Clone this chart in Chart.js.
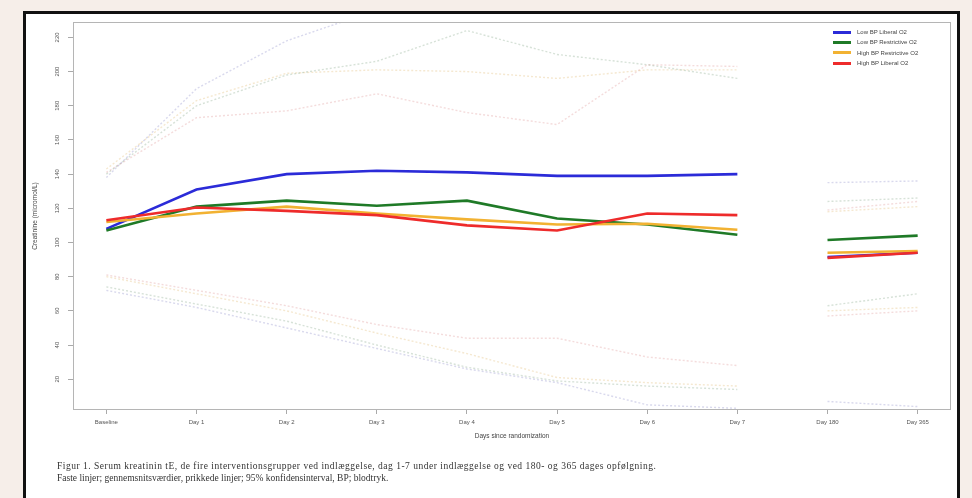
<!DOCTYPE html>
<html>
<head>
<meta charset="utf-8">
<script src="https://cdn.jsdelivr.net/npm/chart.js@4.4.1/dist/chart.umd.min.js"></script>
<style>
  html, body { margin: 0; padding: 0; overflow: hidden; }
  body { width: 972px; height: 498px; background: #f6eee9; position: relative; font-family: "Liberation Sans", Arial, sans-serif; }
  #frame { position: absolute; left: 23px; top: 11px; width: 931px; height: 500px; border: 3px solid #111; background: #fff; }
  #wrap { position: absolute; left: 0; top: 0; width: 972px; height: 498px; }
  #legend { position: absolute; left: 833px; top: 27px; font-size: 6px; color: #444; }
  #legend .row { height: 10.3px; display: flex; align-items: center; }
  #legend .sw { width: 18px; height: 3px; margin-right: 6px; }
  #caption { position: absolute; left: 57px; top: 460px; font-family: "Liberation Serif", "Times New Roman", serif; font-size: 9.5px; line-height: 12px; color: #333; white-space: nowrap; }
  #caption .l1 { letter-spacing: 0.5px; }
</style>
</head>
<body>
<div id="frame"></div>
<div id="wrap"><canvas id="chart"></canvas></div>
<div id="legend"></div>
<div id="caption"><span class="l1">Figur 1. Serum kreatinin tE, de fire interventionsgrupper ved indlæggelse, dag 1-7 under indlæggelse og ved 180- og 365 dages opfølgning.</span><br>Faste linjer; gennemsnitsværdier, prikkede linjer; 95% konfidensinterval, BP; blodtryk.</div>
<script>
// KATEGORIER
const days = ["Baseline", "Day 1", "Day 2", "Day 3", "Day 4", "Day 5", "Day 6", "Day 7", "Day 180", "Day 365"];
const groups = ["Low BP Liberal O2", "Low BP Restrictive O2", "High BP Restrictive O2", "High BP Liberal O2"];

// GENNEMSNIT
const lowLibMean = [108, 131, 140, 142, 141, 139, 139, 140, 91.5, 94];
const lowResMean = [107, 121, 124.5, 121.5, 124.5, 114, 110.5, 104.5, 101.5, 104];
const highResMean = [112, 117, 121, 117, 113.5, 110.5, 111, 107.5, 94, 95];
const highLibMean = [113, 120.5, 118.5, 116, 110, 107, 117, 116, 91, 94];

// 95% KONFIDENSINTERVAL
const lowLibUpper = [138, 190, 218, 236, 245, 250, 252, 255, 135, 136];
const lowLibLower = [72, 62, 50, 38, 26, 18, 5, 3, 7, 4];
const lowResUpper = [140, 180, 198, 206, 224, 210, 204, 196, 124, 126];
const lowResLower = [74, 64, 54, 40, 27, 19, 16, 14, 63, 70];
const highResUpper = [143, 183, 199, 201, 200, 196, 201, 201, 118, 121];
const highResLower = [80, 70, 60, 47, 35, 21, 18, 16, 60, 62];
const highLibUpper = [141, 173, 177, 187, 176, 169, 204, 203, 119, 124];
const highLibLower = [81, 72, 63, 52, 44, 44, 33, 28, 57, 60];

const yTicks = [20, 40, 60, 80, 100, 120, 140, 160, 180, 200, 220];

const colors = ["#2b2bd8", "#1f7a27", "#f2b232", "#ee2b2b"];
const faint = ["rgba(120,120,190,0.28)", "rgba(110,150,115,0.28)", "rgba(225,190,120,0.35)", "rgba(215,130,130,0.28)"];

const means = [lowLibMean, lowResMean, highResMean, highLibMean];
const uppers = [lowLibUpper, lowResUpper, highResUpper, highLibUpper];
const lowers = [lowLibLower, lowResLower, highResLower, highLibLower];

const toPoints = arr => arr.map((v, i) => ({ x: i, y: v }));
// ingen linje mellem Day 7 og Day 180
const gap = { borderColor: ctx => ctx.p0DataIndex === 7 ? "rgba(0,0,0,0)" : undefined };

const datasets = [];
groups.forEach((g, k) => {
  datasets.push({
    label: g,
    data: toPoints(means[k]),
    borderColor: colors[k],
    borderWidth: 2.6,
    pointRadius: 0,
    order: 3 - k,
    segment: gap
  });
  [uppers[k], lowers[k]].forEach(ci => {
    datasets.push({
      label: g + " CI",
      data: toPoints(ci),
      borderColor: faint[k],
      borderWidth: 1.4,
      borderDash: [2, 2],
      pointRadius: 0,
      order: 10,
      segment: gap
    });
  });
});

const framePlugin = {
  id: "frameAndLabels",
  afterDraw(chart) {
    const { ctx, chartArea: a, scales: { y } } = chart;
    ctx.save();
    ctx.strokeStyle = "#b5b5b5";
    ctx.lineWidth = 1;
    ctx.strokeRect(a.left + 0.5, a.top + 0.5, a.width - 1, a.height - 1);
    ctx.fillStyle = "#555";
    ctx.font = "6px 'Liberation Sans', Arial, sans-serif";
    ctx.textAlign = "center";
    ctx.textBaseline = "middle";
    yTicks.forEach(v => {
      const py = y.getPixelForValue(v);
      ctx.save();
      ctx.translate(a.left - 16, py);
      ctx.rotate(-Math.PI / 2);
      ctx.fillText(String(v), 0, 0);
      ctx.restore();
    });
    ctx.restore();
  }
};

new Chart(document.getElementById("chart").getContext("2d"), {
  type: "line",
  data: { datasets },
  options: {
    responsive: true,
    maintainAspectRatio: false,
    animation: false,
    layout: { padding: { left: 28, top: 22, right: 21, bottom: 56 } },
    plugins: { legend: { display: false }, tooltip: { enabled: false } },
    scales: {
      x: {
        type: "linear",
        min: -0.37,
        max: 9.37,
        afterFit: s => { s.height = 32; },
        afterBuildTicks: s => { s.ticks = days.map((d, i) => ({ value: i })); },
        ticks: {
          callback: v => days[v],
          font: { size: 6, family: "'Liberation Sans', Arial, sans-serif" },
          color: "#555",
          padding: 5,
          maxRotation: 0,
          autoSkip: false
        },
        grid: { drawOnChartArea: false, tickLength: 4, color: "#aaa" },
        border: { display: false },
        title: {
          display: true,
          text: "Days since randomization",
          font: { size: 6.5, family: "'Liberation Sans', Arial, sans-serif" },
          color: "#444",
          padding: { top: 0, bottom: 2 }
        }
      },
      y: {
        min: 2,
        max: 229,
        afterFit: s => { s.width = 45; },
        afterBuildTicks: s => { s.ticks = yTicks.map(v => ({ value: v })); },
        ticks: { display: false },
        grid: { drawOnChartArea: false, tickLength: 5, color: "#aaa" },
        border: { display: false },
        title: {
          display: true,
          text: "Creatinine (micromol/L)",
          font: { size: 6.5, family: "'Liberation Sans', Arial, sans-serif" },
          color: "#444",
          padding: { top: 3, bottom: 0 }
        }
      }
    }
  },
  plugins: [framePlugin]
});

// LEGENDE
const legend = document.getElementById("legend");
groups.forEach((g, k) => {
  const row = document.createElement("div");
  row.className = "row";
  row.innerHTML = '<span class="sw" style="background:' + colors[k] + '"></span>' + g;
  legend.appendChild(row);
});
</script>
</body>
</html>
